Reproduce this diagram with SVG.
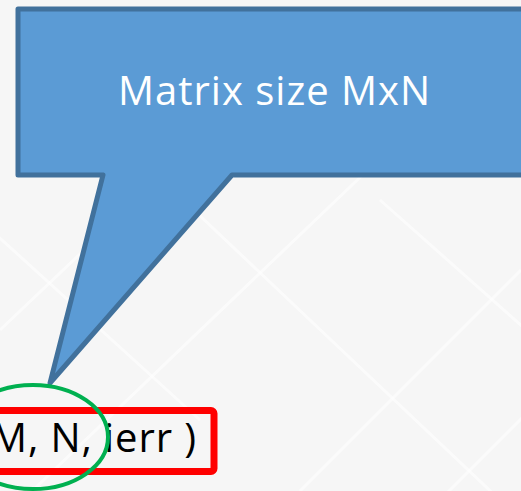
<svg xmlns="http://www.w3.org/2000/svg" width="521" height="491" viewBox="0 0 521 491">
  <style>
    .bg { fill: #f6f6f6; }
    .lattice line { stroke: #ffffff; stroke-width: 3; opacity: 0.6; }
    .callout { fill: #5b9bd5; stroke: #41719c; stroke-width: 5; stroke-linejoin: round; }
    .callout-text { font-family: "Open Sans", "Liberation Sans", sans-serif; font-size: 40px; fill: #ffffff; }
    .code { font-family: "Open Sans", "Liberation Sans", sans-serif; font-size: 40px; fill: #000000; }
    .box { fill: none; stroke: #ff0000; stroke-width: 7; }
    .ring { fill: none; stroke: #00b050; stroke-width: 4; }
  </style>

  <!-- slide background with faint lattice -->
  <rect class="bg" x="0" y="0" width="521" height="491"/>
  <g class="lattice">
    <line x1="120" y1="140" x2="521" y2="520"/>
    <line x1="-40" y1="560" x2="420" y2="120"/>
    <line x1="380" y1="200" x2="560" y2="360"/>
    <line x1="420" y1="520" x2="560" y2="380"/>
    <line x1="-20" y1="220" x2="200" y2="420"/>
    <line x1="0" y1="330" x2="200" y2="140"/>
    <line x1="300" y1="491" x2="521" y2="270"/>
  </g>

  <!-- callout bubble -->
  <g id="callout">
    <path class="callout" d="M18,9 H530 V175 H232 L50,383 L103,175 H18 Z"/>
    <text class="callout-text" x="118" y="105" textLength="312" lengthAdjust="spacing">Matrix size MxN</text>
  </g>

  <!-- call arguments, boxed -->
  <g id="args">
    <rect class="box" x="-20" y="410.5" width="234" height="61" rx="3"/>
    <text class="code" x="-9" y="452" textLength="205" lengthAdjust="spacing">M, N, ierr )</text>
  </g>

  <!-- highlight ring -->
  <g id="highlight">
    <ellipse class="ring" cx="33" cy="437" rx="75" ry="52"/>
  </g>
</svg>
